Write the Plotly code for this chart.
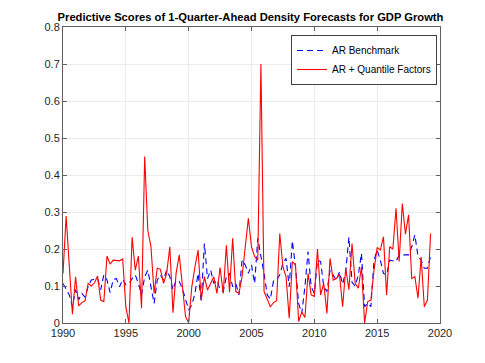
import plotly.graph_objects as go

start_year = 1990
ar_benchmark = [
    0.107, 0.093, 0.076, 0.044, 0.090, 0.063, 0.080, 0.070, 0.098, 0.116,
    0.118, 0.120, 0.090, 0.130, 0.116, 0.082, 0.118, 0.120, 0.098, 0.118,
    0.103, 0.107, 0.120, 0.130, 0.107, 0.076, 0.125, 0.143, 0.098, 0.053,
    0.116, 0.130, 0.116, 0.143, 0.125, 0.090, 0.116, 0.112, 0.093, 0.062,
    0.035, 0.049, 0.080, 0.134, 0.058, 0.215, 0.120, 0.143, 0.107, 0.116,
    0.090, 0.085, 0.125, 0.134, 0.098, 0.107, 0.076, 0.170, 0.157, 0.134,
    0.157, 0.107, 0.229, 0.180, 0.134, 0.076, 0.064, 0.114, 0.116, 0.130,
    0.161, 0.175, 0.098, 0.222, 0.152, 0.053, 0.026, 0.098, 0.193, 0.098,
    0.080, 0.170, 0.166, 0.098, 0.085, 0.143, 0.130, 0.116, 0.138, 0.105,
    0.140, 0.232, 0.110, 0.100, 0.130, 0.188, 0.044, 0.053, 0.044, 0.170,
    0.197, 0.170, 0.134, 0.130, 0.170, 0.167, 0.166, 0.184, 0.184, 0.184,
    0.184, 0.206, 0.238, 0.180, 0.170, 0.148, 0.148, 0.180,
]
ar_quantile = [
    0.134, 0.289, 0.155, 0.024, 0.125, 0.046, 0.055, 0.060, 0.107, 0.100,
    0.108, 0.127, 0.062, 0.058, 0.181, 0.159, 0.170, 0.168, 0.168, 0.173,
    0.044, 0.000, 0.232, 0.143, 0.181, 0.040, 0.450, 0.250, 0.206, 0.080,
    0.148, 0.145, 0.107, 0.134, 0.206, 0.028, 0.134, 0.184, 0.100, 0.017,
    0.001, 0.098, 0.152, 0.197, 0.062, 0.125, 0.089, 0.107, 0.125, 0.080,
    0.150, 0.080, 0.210, 0.083, 0.229, 0.085, 0.080, 0.125, 0.197, 0.283,
    0.206, 0.180, 0.170, 0.700, 0.085, 0.066, 0.044, 0.055, 0.060, 0.242,
    0.152, 0.125, 0.013, 0.166, 0.157, 0.004, 0.030, 0.015, 0.134, 0.076,
    0.072, 0.200, 0.076, 0.107, 0.026, 0.175, 0.116, 0.120, 0.132, 0.044,
    0.148, 0.090, 0.215, 0.107, 0.094, 0.152, 0.000, 0.058, 0.062, 0.143,
    0.204, 0.197, 0.233, 0.076, 0.206, 0.200, 0.310, 0.166, 0.323, 0.240,
    0.292, 0.120, 0.125, 0.067, 0.178, 0.044, 0.062, 0.242,
]
dates = [start_year + i / 4 for i in range(len(ar_quantile))]
x_ticks = [1990, 1995, 2000, 2005, 2010, 2015, 2020]
y_ticks = [0, 0.1, 0.2, 0.3, 0.4, 0.5, 0.6, 0.7, 0.8]

FONT = "Liberation Sans, Arial, sans-serif"

fig = go.Figure()
fig.add_trace(go.Scatter(x=dates, y=ar_benchmark, mode="lines", name="AR Benchmark",
                         line=dict(color="#0000ff", width=1.1, dash="6px,4px")))
fig.add_trace(go.Scatter(x=dates, y=ar_quantile, mode="lines", name="AR + Quantile Factors",
                         line=dict(color="#ff0000", width=1.1)))

axis_common = dict(showline=True, linecolor="#606060", linewidth=1, mirror="ticks",
                   ticks="inside", ticklen=4, tickcolor="#606060",
                   showgrid=True, gridcolor="#ebebeb", gridwidth=1, zeroline=False,
                   tickfont=dict(family=FONT, size=11, color="#262626"))
fig.update_xaxes(range=[1990, 2020], tickvals=x_ticks, ticktext=[str(t) for t in x_ticks], **axis_common)
fig.update_yaxes(range=[0, 0.8], tickvals=y_ticks, ticktext=[("%g" % t) for t in y_ticks], **axis_common)

fig.update_layout(
    width=485, height=363,
    margin=dict(l=63, r=45, t=27, b=40),
    paper_bgcolor="white", plot_bgcolor="white",
    title=dict(text="<b>Predictive Scores of 1-Quarter-Ahead Density Forecasts for GDP Growth</b>",
               x=(57 + 444) / 2 / 485, xanchor="center", y=1 - 17 / 363, yanchor="middle",
               font=dict(family=FONT, size=11.2, color="black")),
    legend=dict(x=(291 - 63) / 377, y=(323 - 35) / 296, xanchor="left", yanchor="top",
                bordercolor="#404040", borderwidth=1, bgcolor="white",
                font=dict(family=FONT, size=10, color="black"),
                tracegroupgap=0, itemwidth=30),
    showlegend=True,
)

fig.write_html("out.html", config={"displayModeBar": False},
               post_script="document.body.style.margin='0';")
